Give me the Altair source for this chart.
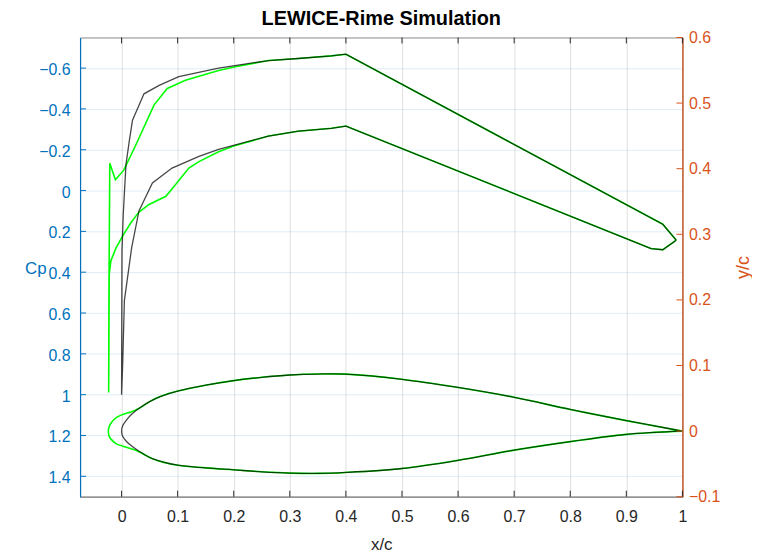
import altair as alt
import pandas as pd

# ---------------- data ----------------
x_ticks = [0, 0.1, 0.2, 0.3, 0.4, 0.5, 0.6, 0.7, 0.8, 0.9, 1]
cp_ticks = [-0.6, -0.4, -0.2, 0, 0.2, 0.4, 0.6, 0.8, 1, 1.2, 1.4]
yc_ticks = [-0.1, 0, 0.1, 0.2, 0.3, 0.4, 0.5, 0.6]

# Clean (black) Cp: lower-suction branch from trailing edge to stagnation point
cpk_lo_x = [0.989, 0.965, 0.944, 0.400, 0.374, 0.315, 0.262, 0.173, 0.138, 0.090,
            0.055, 0.031, 0.018, 0.005, 0.002, 0.0]
cpk_lo_y = [0.243, 0.290, 0.284, -0.316, -0.305, -0.291, -0.267, -0.202, -0.167, -0.110,
            -0.037, 0.100, 0.280, 0.539, 0.85, 1.0]
# Clean (black) Cp: upper-suction branch from stagnation point to trailing edge
cpk_up_x = [0.0004, 0.0007, 0.003, 0.0078, 0.0136, 0.0195, 0.040, 0.067, 0.102,
            0.173, 0.262, 0.315, 0.374, 0.400, 0.965, 0.989]
cpk_up_y = [0.6, 0.295, 0.117, -0.126, -0.24, -0.345, -0.474, -0.515, -0.558,
            -0.600, -0.637, -0.647, -0.660, -0.668, 0.165, 0.243]

# Iced (green) Cp: lower branch from trailing edge to stagnation point
cpg_lo_x = [0.989, 0.965, 0.944, 0.400, 0.374, 0.315, 0.262, 0.200, 0.173, 0.138,
            0.120, 0.096, 0.079, 0.049, 0.031, 0.016, 0.002, -0.010, -0.019, -0.022, -0.023]
cpg_lo_y = [0.243, 0.290, 0.284, -0.316, -0.305, -0.291, -0.267, -0.218, -0.190, -0.142,
            -0.110, -0.029, 0.028, 0.068, 0.105, 0.160, 0.222, 0.282, 0.344, 0.410, 0.99]
# Iced (green) Cp: upper branch from stagnation point to trailing edge
cpg_up_x = [-0.0225, -0.021, -0.011, 0.004, 0.026, 0.058, 0.0815, 0.114, 0.173,
            0.203, 0.262, 0.315, 0.374, 0.400, 0.965, 0.989]
cpg_up_y = [0.50, -0.134, -0.053, -0.100, -0.227, -0.420, -0.500, -0.540, -0.588,
            -0.607, -0.637, -0.647, -0.660, -0.668, 0.165, 0.243]

# Clean airfoil (black): upper surface TE -> LE, lower surface LE -> TE
fk_up_x = [1.0, 0.95, 0.9, 0.8, 0.7, 0.6, 0.5, 0.4, 0.35, 0.3, 0.25, 0.2, 0.15, 0.1,
           0.07, 0.05, 0.03, 0.017, 0.008, 0.002, 0.0]
fk_up_y = [0.0, 0.008, 0.016, 0.033, 0.0515, 0.0665, 0.079, 0.0868, 0.087, 0.0855,
           0.082, 0.077, 0.070, 0.061, 0.053, 0.045, 0.034, 0.025, 0.016, 0.008, 0.0]
fk_lo_x = [0.002, 0.008, 0.017, 0.03, 0.055, 0.1, 0.15, 0.2, 0.25, 0.3, 0.35, 0.4,
           0.5, 0.6, 0.7, 0.8, 0.9, 0.95, 1.0]
fk_lo_y = [-0.008, -0.015, -0.022, -0.030, -0.042, -0.052, -0.056, -0.059, -0.062,
           -0.064, -0.0645, -0.063, -0.057, -0.0445, -0.029, -0.016, -0.005, -0.002, 0.0]

# Iced airfoil (green): rime growth around the leading edge
fg_up_x = [1.0, 0.95, 0.9, 0.8, 0.7, 0.6, 0.5, 0.4, 0.35, 0.3, 0.25, 0.2, 0.15, 0.1,
           0.07, 0.05, 0.03, 0.017, 0.008, -0.002, -0.010, -0.018, -0.022, -0.0236]
fg_up_y = [0.0, 0.008, 0.016, 0.033, 0.0515, 0.0665, 0.079, 0.0868, 0.087, 0.0855,
           0.082, 0.077, 0.070, 0.061, 0.053, 0.045, 0.034, 0.029, 0.027, 0.024, 0.020,
           0.013, 0.007, 0.0]
fg_lo_x = [-0.022, -0.018, -0.010, 0.002, 0.017, 0.03, 0.055, 0.1, 0.15, 0.2, 0.25,
           0.3, 0.35, 0.4, 0.5, 0.6, 0.7, 0.8, 0.9, 0.95, 1.0]
fg_lo_y = [-0.008, -0.013, -0.019, -0.023, -0.027, -0.031, -0.042, -0.052, -0.056,
           -0.059, -0.062, -0.064, -0.0645, -0.063, -0.057, -0.0445, -0.029, -0.016,
           -0.005, -0.002, 0.0]

# ---------------- styling ----------------
W, H = 606, 462
FONT = "Liberation Sans"
BLUE = "#0072BD"
ORANGE = "#D95319"
DARK = "#262626"
FRAME = "#8a8a8a"


def path(xs, ys, col):
    return pd.DataFrame({"x": xs, col: ys, "i": list(range(len(xs)))})


xscale = alt.Scale(domain=[-0.074, 1], nice=False, zero=False)
xaxis = alt.Axis(values=x_ticks, format="~g", title="x/c", grid=True,
                 gridColor=DARK, gridOpacity=0.15, gridWidth=1,
                 domainColor=FRAME, domainWidth=1.2, ticks=False, tickSize=0,
                 labelColor=DARK, labelFont=FONT, labelFontSize=16, labelPadding=12,
                 labelFlush=False, labelOverlap=False,
                 titleColor=DARK, titleFont=FONT, titleFontSize=17,
                 titleFontWeight="normal", titleBaseline="alphabetic", titleY=53)
X = alt.X("x:Q", scale=xscale, axis=xaxis)

cpscale = alt.Scale(domain=[-0.75, 1.5], reverse=True, nice=False, zero=False)
cpaxis = alt.Axis(orient="left", values=cp_ticks, format="~g", title="Cp", grid=True,
                  gridColor=BLUE, gridOpacity=0.13, gridWidth=1,
                  domainColor=BLUE, domainWidth=1.2, ticks=False, tickSize=0,
                  labelColor=BLUE, labelFont=FONT, labelFontSize=16, labelPadding=10,
                  labelOverlap=False, labelOffset=1.5,
                  titleColor=BLUE, titleFont=FONT, titleFontSize=17,
                  titleFontWeight="normal", titleAngle=0, titleAlign="center",
                  titleBaseline="alphabetic", titleX=-45, titleY=237)
Ycp = alt.Y("cp:Q", scale=cpscale, axis=cpaxis)

ycscale = alt.Scale(domain=[-0.1, 0.6], nice=False, zero=False)
ycaxis = alt.Axis(orient="right", values=yc_ticks, format="~g", title="y/c", grid=False,
                  domainColor=ORANGE, domainWidth=1.2, ticks=False, tickSize=0,
                  labelColor=ORANGE, labelFont=FONT, labelFontSize=16, labelPadding=6,
                  labelOverlap=False,
                  titleColor=ORANGE, titleFont=FONT, titleFontSize=18,
                  titleFontWeight="normal", titleAngle=270, titleAlign="center",
                  titleBaseline="alphabetic", titleX=66, titleY=231)
Yyc = alt.Y("yc:Q", scale=ycscale, axis=ycaxis)

O = alt.Order("i:Q")

cp_green = alt.Chart(path(cpg_lo_x + cpg_up_x, cpg_lo_y + cpg_up_y, "cp")).mark_line(
    color="#00FF00", strokeWidth=1.6, clip=True).encode(x=X, y=Ycp, order=O)
cp_black = alt.Chart(path(cpk_lo_x + cpk_up_x, cpk_lo_y + cpk_up_y, "cp")).mark_line(
    color="#000000", strokeWidth=1.3, opacity=0.72, clip=True).encode(x=X, y=Ycp, order=O)

xt_bottom = alt.Chart(pd.DataFrame({"x": x_ticks})).mark_rule(
    color=DARK, strokeWidth=1).encode(x=X, y=alt.value(H), y2=alt.value(H - 6))
xt_top = alt.Chart(pd.DataFrame({"x": x_ticks})).mark_rule(
    color=DARK, strokeWidth=1).encode(x=X, y=alt.value(0), y2=alt.value(6))
cp_tk = alt.Chart(pd.DataFrame({"cp": cp_ticks})).mark_rule(
    color=BLUE, strokeWidth=1).encode(y=Ycp, x=alt.value(0), x2=alt.value(6))

left = alt.layer(cp_green, cp_black, xt_bottom, xt_top, cp_tk)

foil_green = alt.Chart(path(fg_up_x + fg_lo_x, fg_up_y + fg_lo_y, "yc")).mark_line(
    color="#00FF00", strokeWidth=1.6, interpolate="catmull-rom", clip=True
).encode(x=X, y=Yyc, order=O)
foil_black = alt.Chart(path(fk_up_x + fk_lo_x, fk_up_y + fk_lo_y, "yc")).mark_line(
    color="#000000", strokeWidth=1.3, opacity=0.72, interpolate="catmull-rom", clip=True
).encode(x=X, y=Yyc, order=O)
yc_tk = alt.Chart(pd.DataFrame({"yc": yc_ticks})).mark_rule(
    color=ORANGE, strokeWidth=1).encode(y=Yyc, x=alt.value(W - 6), x2=alt.value(W))

right = alt.layer(foil_green, foil_black, yc_tk)

chart = alt.layer(left, right).resolve_scale(y="independent").properties(
    width=W, height=H,
    title=alt.TitleParams("LEWICE-Rime Simulation", font=FONT, fontSize=20,
                          fontWeight="bold", color="#000000", anchor="middle",
                          frame="group", offset=1),
    autosize=alt.AutoSizeParams(type="none"),
    padding={"left": 72.5, "top": 28, "right": 70, "bottom": 60},
    background="white",
).configure_view(stroke=FRAME, strokeWidth=1)

chart.save("out.html", embed_options={"renderer": "svg", "actions": False})
